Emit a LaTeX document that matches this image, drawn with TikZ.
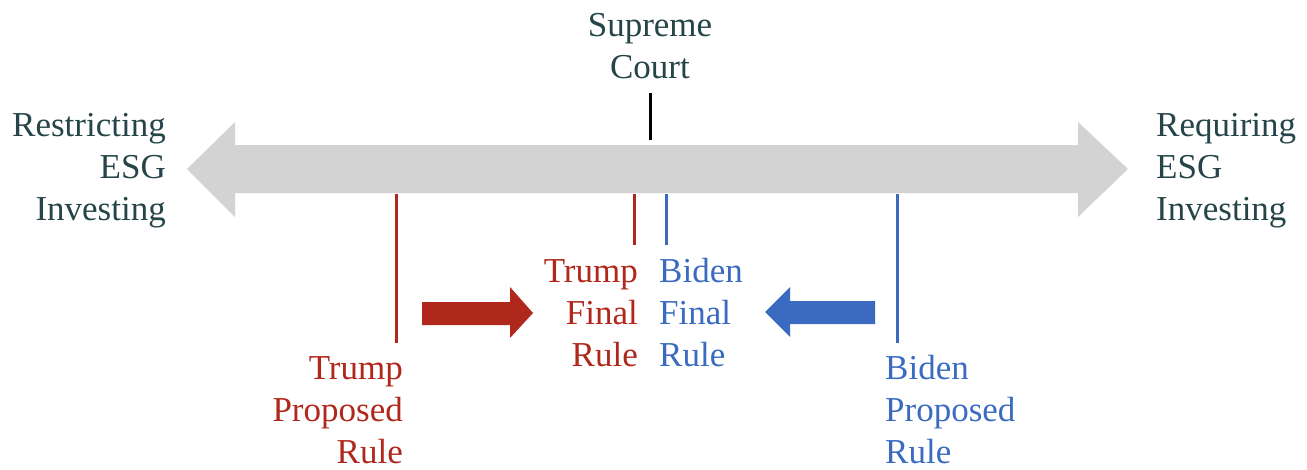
\documentclass[tikz,border=0pt]{standalone}
\usepackage{fontspec}
\setmainfont{Liberation Serif}
\definecolor{txtdark}{HTML}{264548}
\definecolor{arrgray}{HTML}{D3D3D3}
\definecolor{trumpred}{HTML}{B0281C}
\definecolor{bidenblue}{HTML}{3A6BC0}
\begin{document}
\begin{tikzpicture}[x=1pt,y=-1pt,
  lbl/.style={inner sep=0pt, font=\fontsize{35}{42}\selectfont},
  tick/.style={line width=3pt}]
\useasboundingbox (0,0) rectangle (1307,469);
% big gray double arrow
\fill[arrgray] (187,169) -- (235,122) -- (235,145) -- (1078,145) -- (1078,122) -- (1128,169)
  -- (1078,217) -- (1078,193) -- (235,193) -- (235,217) -- cycle;
% end labels
\node[lbl, align=right, anchor=east, text=txtdark] (restr) at (166,171) {Restricting\\ESG\\Investing};
\node[lbl, align=left, anchor=west, text=txtdark] (requ) at (1156,171) {Requiring\\ESG\\Investing};
% Supreme court
\node[lbl, align=center, text=txtdark] (sc) at (650,46) {Supreme\\Court};
\coordinate (sctop) at (650,93);
\coordinate (scbot) at (650,140);
\draw[tick, black] (sctop) -- (scbot);
% Trump proposed
\coordinate (tp1) at (396,194);
\coordinate (tp2) at (396,343);
\draw[tick, trumpred] (tp1) -- (tp2);
\node[lbl, align=right, anchor=east, text=trumpred] (tpl) at (403,410) {Trump\\Proposed\\Rule};
% Trump final
\coordinate (tf1) at (634,194);
\coordinate (tf2) at (634,245);
\draw[tick, trumpred] (tf1) -- (tf2);
\node[lbl, align=right, anchor=east, text=trumpred] (tfl) at (638,313) {Trump\\Final\\Rule};
% Biden final
\coordinate (bf1) at (666,194);
\coordinate (bf2) at (666,245);
\draw[tick, bidenblue] (bf1) -- (bf2);
\node[lbl, align=left, anchor=west, text=bidenblue] (bfl) at (659,313) {Biden\\Final\\Rule};
% Biden proposed
\coordinate (bp1) at (897,194);
\coordinate (bp2) at (897,343);
\draw[tick, bidenblue] (bp1) -- (bp2);
\node[lbl, align=left, anchor=west, text=bidenblue] (bpl) at (885,410) {Biden\\Proposed\\Rule};
% red fat arrow
\fill[trumpred] (422,302) -- (510,302) -- (510,287) -- (533,313) -- (510,338) -- (510,325) -- (422,325) -- cycle;
% blue fat arrow
\fill[bidenblue] (875,301) -- (790,301) -- (790,287) -- (765,312) -- (790,337) -- (790,324) -- (875,324) -- cycle;
\end{tikzpicture}
\end{document}
